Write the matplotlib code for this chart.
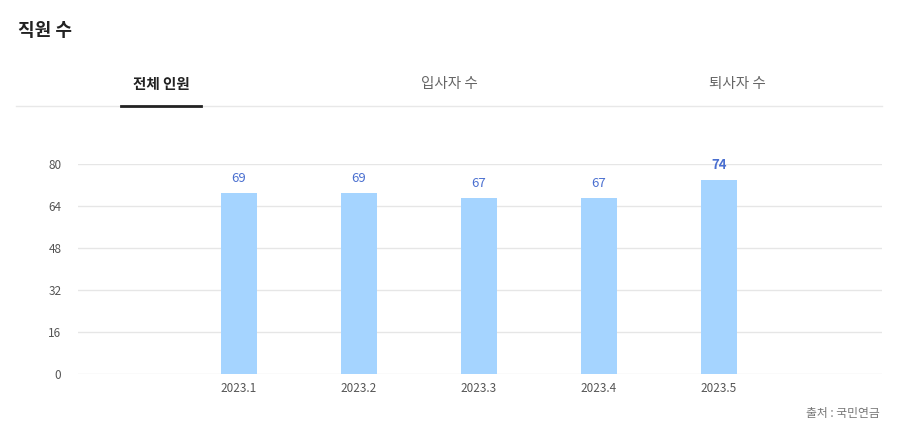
import matplotlib
matplotlib.use("Agg")
import matplotlib.pyplot as plt

plt.rcParams['font.family'] = ['Noto Sans CJK KR', 'DejaVu Sans']

categories = ["2023.1", "2023.2", "2023.3", "2023.4", "2023.5"]
values = [69, 69, 67, 67, 74]
yticks = [0, 16, 32, 48, 64, 80]
tabs = ["전체 인원", "입사자 수", "퇴사자 수"]

W, H = 900, 443
fig = plt.figure(figsize=(9, 4.43), dpi=100)
fig.patch.set_facecolor("white")

def fx(px): return px / W
def fy(py): return 1 - py / H

fig.text(fx(18), fy(30), "직원 수", fontsize=13, fontweight="bold", color="#222222", va="center", ha="left")
for i, (t, x) in enumerate(zip(tabs, [161, 449, 737])):
    fig.text(fx(x), fy(84), t, fontsize=10.5, ha="center", va="center",
             fontweight="bold" if i == 0 else "normal",
             color="#222222" if i == 0 else "#666666")
fig.add_artist(plt.Line2D([fx(16), fx(882)], [fy(106), fy(106)], color="#e8e8e8", lw=1))
fig.add_artist(plt.Line2D([fx(121), fx(201)], [fy(105.5), fy(105.5)], color="#222222", lw=2))
fig.text(fx(880), fy(414), "출처 : 국민연금", fontsize=8.5, ha="right", va="center", color="#777777")

ax = fig.add_axes([fx(78), fy(374), fx(882) - fx(78), fy(164) - fy(374)])
x = list(range(len(categories)))
ax.bar(x, values, width=0.3, color="#a5d4ff", zorder=2)
for i, v in enumerate(values):
    last = i == len(values) - 1
    ax.text(i, v + 3, str(v), ha="center", va="bottom", fontsize=9.5,
            color="#4a6fd0", fontweight="bold" if last else "normal")
ax.set_xlim(-1.342, 5.358)
ax.set_ylim(0, 80)
ax.set_yticks(yticks)
ax.set_xticks(x)
ax.set_xticklabels(categories)
ax.tick_params(axis="both", length=0, labelsize=8.5, colors="#555555")
ax.tick_params(axis="y", pad=12)
ax.tick_params(axis="x", pad=6)
ax.grid(axis="y", color="#e6e6e6", lw=1, zorder=0)
for s in ax.spines.values():
    s.set_visible(False)

fig.savefig("out.png", dpi=100)
